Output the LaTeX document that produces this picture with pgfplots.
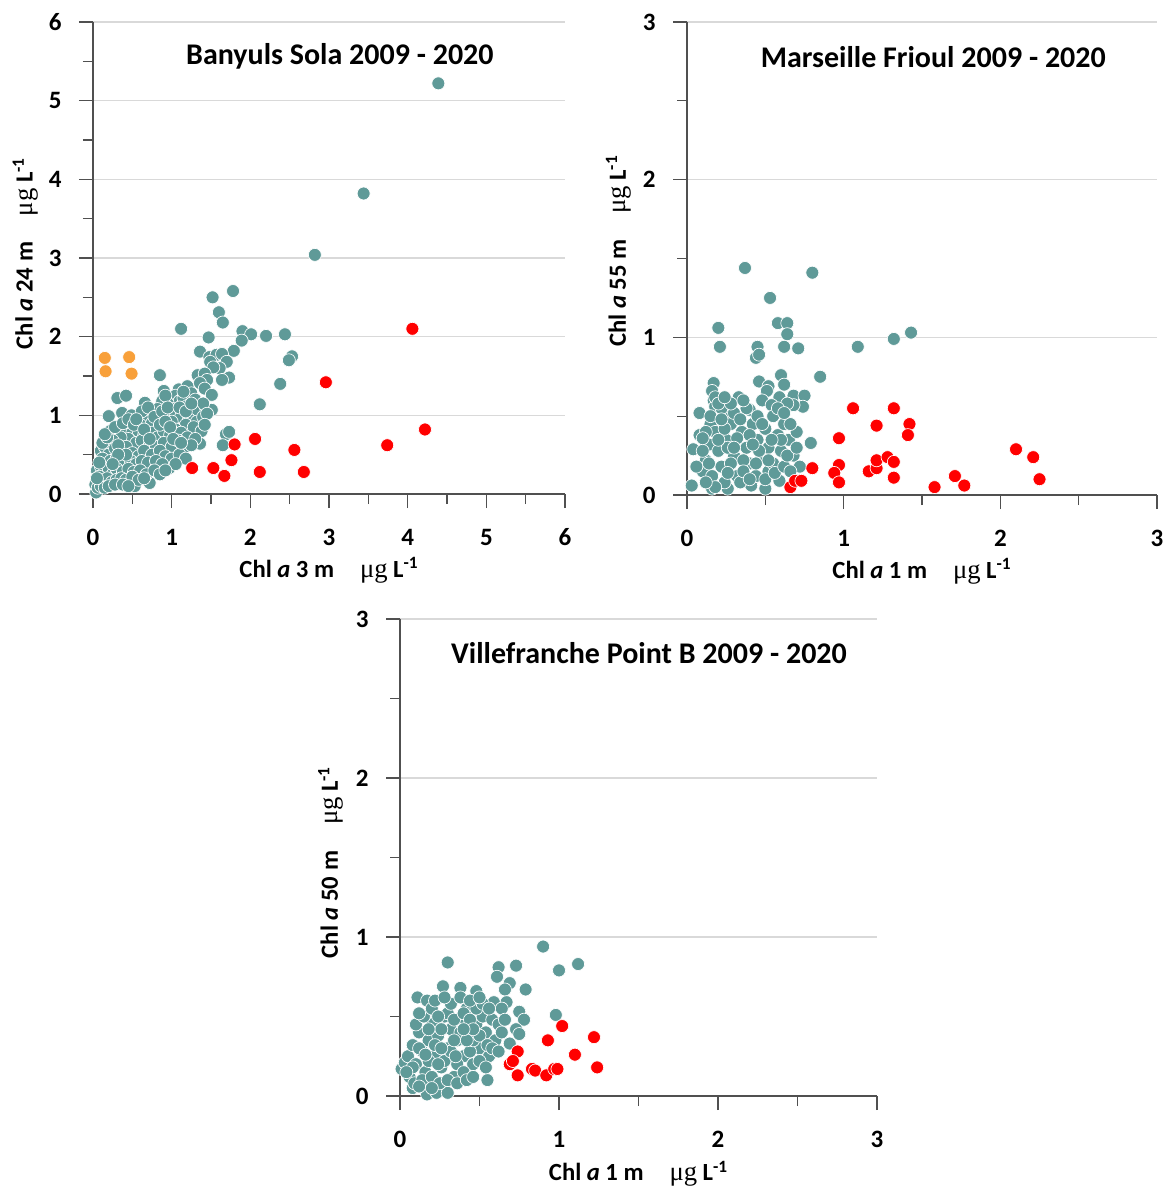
\documentclass[border=0pt]{standalone}
\usepackage{pgfplots}
\pgfplotsset{compat=1.18}
\usepackage{fontspec}
\setmainfont{Carlito}
\newfontfamily\serifmu{Liberation Serif}
\definecolor{tealc}{RGB}{95,154,152}
\definecolor{redc}{RGB}{255,0,0}
\definecolor{orangec}{RGB}{248,160,58}
\definecolor{axgray}{RGB}{80,80,80}
\definecolor{gridgray}{RGB}{217,217,217}
\pgfplotsset{
  chl/.style={
    scale only axis,
    axis x line*=bottom, axis y line*=left,
    axis line style={-, draw=axgray, line width=0.8pt},
    tick align=outside, major tick length=8.4pt, minor tick length=6pt, minor tick num=1,
    every tick/.style={draw=axgray, line width=0.8pt},
    ymajorgrids, major grid style={draw=gridgray, line width=0.8pt},
    xmin=0, ymin=0, clip=false,
    /pgf/number format/assume math mode=true,
    tick label style={font=\fontsize{15}{17}\selectfont\bfseries},
    label style={font=\fontsize{14.8}{17}\selectfont\bfseries},
    xticklabel style={yshift=-9pt},
    yticklabel style={xshift=-7pt},
  },
  tealpts/.style={only marks, mark=*, mark size=3.9pt, mark options={fill=tealc, draw=white, line width=0.4pt}},
  redpts/.style={only marks, mark=*, mark size=3.9pt, mark options={fill=redc, draw=white, line width=0.4pt}},
  orpts/.style={only marks, mark=*, mark size=3.9pt, mark options={fill=orangec, draw=white, line width=0.4pt}},
}
\newcommand{\ugl}{\hspace{1.05em}{\serifmu\mdseries\fontsize{16}{17}\selectfont μg} L\textsuperscript{-1}}
\begin{document}
\begin{tikzpicture}
\path[use as bounding box] (0,0) rectangle (699.6pt,-713.4pt);
% ---------------- Banyuls
\begin{axis}[chl, at={(55.8pt,-296.4pt)}, anchor=south west, width=283.2pt, height=283.2pt,
  xmax=6, ymax=6, xtick={0,...,6}, ytick={0,...,6},
  xlabel={Chl \textit{a} 3 m\ugl}, ylabel={Chl \textit{a} 24 m\ugl},
  xlabel style={at={(axis description cs:0.5,-0.176)}, anchor=base},
  ylabel style={at={(axis description cs:-0.128,0.51)}, anchor=base}]
\addplot[tealpts] coordinates {
(4.39,5.22)(3.44,3.82)(2.82,3.04)(1.78,2.58)(1.52,2.50)(1.60,2.31)(1.65,2.18)(1.12,2.10)
(1.90,2.07)(2.01,2.03)(2.20,2.01)(2.44,2.03)(1.89,1.95)(1.47,1.99)(1.36,1.81)(1.79,1.82)
(1.48,1.74)(1.57,1.77)(1.64,1.78)(1.70,1.68)(1.61,1.60)(1.49,1.68)(1.53,1.61)(1.73,1.48)
(1.64,1.45)(2.53,1.75)(2.49,1.70)(2.38,1.40)(2.12,1.14)(0.85,1.51)(1.33,1.51)(1.42,1.53)
(1.45,1.45)(1.36,1.41)(1.42,1.34)(1.51,1.26)(1.51,1.07)(0.31,1.22)(0.42,1.25)(0.66,1.16)
(0.37,1.03)(0.20,0.99)(0.49,1.00)(0.60,0.98)(0.90,1.31)(1.09,1.33)(1.20,1.37)(1.69,0.76)
(1.73,0.79)(1.65,0.62)(1.36,0.64)(0.53,0.10)(0.04,0.02)(0.15,0.18)(0.72,0.14)(0.97,0.33)
(1.00,1.20)(1.05,1.25)(1.10,1.18)(1.15,1.22)(1.25,1.28)(1.30,1.20)(0.95,1.15)(1.20,1.12)
(1.35,1.10)(1.40,1.15)(1.28,1.05)(1.02,1.08)(0.88,1.18)(0.92,1.25)(1.15,1.30)
(0.70,1.02)(0.78,1.05)(0.85,0.95)(0.95,1.00)(1.05,1.02)(1.12,0.98)(1.22,0.95)(1.32,0.92)
(1.40,0.98)(1.45,1.02)(0.82,1.08)(0.68,0.92)(0.60,0.88)(0.75,0.90)(1.00,0.92)(1.18,0.88)
(1.28,0.85)(1.38,0.80)(1.42,0.88)
(0.30,0.85)(0.22,0.80)(0.40,0.82)(0.50,0.78)(0.58,0.80)(0.65,0.75)(0.75,0.78)(0.82,0.72)
(0.90,0.80)(0.98,0.75)(1.05,0.82)(1.12,0.78)(1.20,0.72)(1.30,0.70)(0.45,0.70)(0.35,0.72)
(0.25,0.68)(0.55,0.65)(0.62,0.68)(0.72,0.62)(0.80,0.60)(0.90,0.65)(1.00,0.60)(1.08,0.68)
(1.15,0.58)(1.25,0.62)
(0.10,0.55)(0.15,0.60)(0.20,0.50)(0.28,0.58)(0.35,0.55)(0.42,0.60)(0.50,0.52)(0.58,0.48)
(0.65,0.55)(0.75,0.50)(0.85,0.55)(0.92,0.48)(1.00,0.45)(1.10,0.50)(1.18,0.45)(0.12,0.45)
(0.22,0.42)(0.30,0.45)(0.38,0.40)(0.48,0.42)(0.55,0.38)(0.62,0.42)(0.70,0.40)(0.80,0.42)
(0.88,0.38)(1.05,0.38)
(0.05,0.30)(0.10,0.35)(0.15,0.28)(0.20,0.32)(0.25,0.25)(0.30,0.32)(0.38,0.28)(0.45,0.32)
(0.52,0.28)(0.60,0.30)(0.68,0.25)(0.78,0.30)(0.85,0.25)(0.92,0.30)(0.08,0.22)(0.12,0.15)
(0.18,0.20)(0.24,0.15)(0.30,0.18)(0.36,0.20)(0.42,0.18)(0.50,0.22)(0.58,0.18)(0.65,0.20)
(0.03,0.12)(0.06,0.08)(0.10,0.10)(0.15,0.08)(0.20,0.10)(0.28,0.12)(0.38,0.12)(0.45,0.10)
(0.12,0.65)(0.18,0.72)(0.15,0.76)(0.28,0.85)(0.32,0.62)(0.08,0.40)(0.05,0.20)
(0.38,0.90)(0.45,0.95)(0.52,0.88)(0.62,1.05)(0.70,1.10)(0.78,0.98)(0.88,1.05)(0.95,1.10)
(0.55,0.95)(0.65,0.82)(0.85,0.88)(0.92,0.92)(1.10,1.10)(1.18,1.05)(1.25,1.15)(0.98,0.85)
(1.02,0.70)(1.12,0.65)(0.72,0.70)(0.42,0.50)(0.32,0.50)(0.25,0.38)
};
\addplot[orpts] coordinates {(0.15,1.73)(0.16,1.56)(0.46,1.74)(0.49,1.53)};
\addplot[redpts] coordinates {
(4.06,2.10)(2.96,1.42)(4.22,0.82)(3.74,0.62)(2.06,0.70)(1.80,0.63)(1.76,0.43)(2.56,0.56)
(1.26,0.33)(1.53,0.33)(1.67,0.23)(2.12,0.28)(2.68,0.28)};
\node[font=\fontsize{18}{20}\selectfont\bfseries] at (rel axis cs:0.523,0.928) {Banyuls Sola 2009 - 2020};
\end{axis}
% ---------------- Marseille
\begin{axis}[chl, at={(412.2pt,-297pt)}, anchor=south west, width=282pt, height=283.8pt,
  xmax=3, ymax=3, xtick={0,...,3}, ytick={0,...,3},
  xlabel={Chl \textit{a} 1 m\ugl}, ylabel={Chl \textit{a} 55 m\ugl},
  xlabel style={at={(axis description cs:0.5,-0.176)}, anchor=base},
  ylabel style={at={(axis description cs:-0.130,0.516)}, anchor=base}]
\addplot[tealpts] coordinates {
(0.37,1.44)(0.80,1.41)(0.53,1.25)(0.58,1.09)(0.64,1.09)(0.64,1.02)(0.20,1.06)(0.21,0.94)
(0.45,0.94)(0.44,0.87)(0.46,0.89)(0.62,0.94)(0.71,0.93)(1.09,0.94)(1.32,0.99)(1.43,1.03)
(0.85,0.75)(0.60,0.76)(0.62,0.70)(0.46,0.72)(0.17,0.71)(0.52,0.69)(0.51,0.66)(0.59,0.62)
(0.68,0.63)(0.75,0.63)(0.74,0.56)(0.68,0.57)(0.64,0.58)(0.33,0.62)(0.48,0.60)(0.54,0.57)
(0.08,0.52)(0.26,0.52)(0.40,0.54)(0.79,0.33)(0.04,0.29)(0.03,0.06)(0.16,0.04)(0.26,0.04)
(0.41,0.06)(0.50,0.04)(0.59,0.09)(0.52,0.15)(0.16,0.66)(0.17,0.60)(0.18,0.56)(0.15,0.45)
(0.08,0.38)(0.12,0.22)(0.10,0.15)(0.14,0.32)(0.18,0.40)(0.20,0.28)(0.22,0.18)(0.25,0.35)
(0.28,0.45)(0.30,0.25)(0.32,0.12)(0.35,0.40)(0.38,0.30)(0.40,0.20)(0.42,0.45)(0.45,0.35)
(0.48,0.25)(0.50,0.42)(0.52,0.30)(0.55,0.20)(0.58,0.38)(0.60,0.28)(0.62,0.45)(0.65,0.35)
(0.68,0.25)(0.70,0.40)(0.72,0.18)(0.15,0.50)(0.22,0.55)(0.30,0.52)(0.38,0.55)(0.45,0.50)
(0.55,0.50)(0.18,0.62)(0.20,0.58)(0.06,0.18)(0.10,0.28)(0.16,0.12)(0.24,0.08)(0.28,0.20)
(0.34,0.08)(0.36,0.22)(0.44,0.12)(0.46,0.28)(0.50,0.10)(0.56,0.14)(0.62,0.18)(0.66,0.15)
(0.26,0.30)(0.32,0.36)(0.40,0.38)(0.48,0.45)(0.12,0.40)(0.34,0.48)(0.42,0.32)(0.36,0.15)
(0.24,0.42)(0.20,0.35)(0.44,0.20)(0.52,0.22)(0.60,0.35)(0.64,0.25)(0.70,0.30)(0.14,0.20)
(0.30,0.30)(0.40,0.10)(0.26,0.14)(0.18,0.05)(0.22,0.48)(0.58,0.55)(0.66,0.45)(0.62,0.52)
(0.54,0.35)(0.10,0.36)(0.12,0.08)(0.28,0.58)(0.36,0.60)(0.24,0.62)
};
\addplot[redpts] coordinates {
(1.06,0.55)(1.32,0.55)(1.21,0.44)(1.42,0.45)(1.41,0.38)(0.97,0.36)(0.97,0.19)(0.94,0.14)
(0.97,0.08)(0.80,0.17)(0.66,0.05)(0.69,0.09)(0.73,0.09)(1.16,0.15)(1.21,0.17)(1.21,0.22)
(1.28,0.24)(1.32,0.21)(1.32,0.11)(1.58,0.05)(1.71,0.12)(1.77,0.06)(2.10,0.29)(2.21,0.24)
(2.25,0.10)};
\node[font=\fontsize{18}{20}\selectfont\bfseries] at (rel axis cs:0.524,0.926) {Marseille Frioul 2009 - 2020};
\end{axis}
% ---------------- Villefranche
\begin{axis}[chl, at={(240pt,-657.6pt)}, anchor=south west, width=286.2pt, height=286.2pt,
  xmax=3, ymax=3, xtick={0,...,3}, ytick={0,...,3},
  xlabel={Chl \textit{a} 1 m\ugl}, ylabel={Chl \textit{a} 50 m\ugl},
  xlabel style={at={(axis description cs:0.5,-0.178)}, anchor=base},
  ylabel style={at={(axis description cs:-0.130,0.49)}, anchor=base}]
\addplot[tealpts] coordinates {
(0.90,0.94)(1.12,0.83)(1.00,0.79)(0.30,0.84)(0.62,0.81)(0.73,0.82)(0.61,0.75)(0.69,0.71)
(0.66,0.67)(0.79,0.67)(0.27,0.69)(0.38,0.68)(0.48,0.66)(0.11,0.62)(0.17,0.60)(0.67,0.59)
(0.59,0.59)(0.64,0.55)(0.75,0.53)(0.78,0.48)(0.73,0.42)(0.75,0.39)(0.98,0.51)(0.69,0.33)
(0.55,0.10)(0.17,0.01)(0.23,0.02)(0.30,0.02)(0.08,0.05)(0.01,0.17)(0.03,0.21)
(0.05,0.25)(0.08,0.32)(0.10,0.20)(0.12,0.40)(0.14,0.28)(0.16,0.15)(0.18,0.35)(0.20,0.45)
(0.22,0.25)(0.24,0.38)(0.26,0.18)(0.28,0.50)(0.30,0.30)(0.32,0.42)(0.34,0.12)(0.36,0.35)
(0.38,0.48)(0.40,0.25)(0.42,0.55)(0.44,0.38)(0.46,0.20)(0.48,0.45)(0.50,0.30)(0.52,0.50)
(0.54,0.40)(0.56,0.25)(0.58,0.48)(0.60,0.35)(0.62,0.45)(0.10,0.45)(0.15,0.50)(0.06,0.12)
(0.09,0.08)(0.14,0.10)(0.20,0.12)(0.25,0.08)(0.30,0.10)(0.12,0.30)(0.18,0.22)(0.22,0.32)
(0.28,0.22)(0.32,0.28)(0.36,0.20)(0.40,0.15)(0.44,0.28)(0.46,0.35)(0.50,0.38)(0.55,0.32)
(0.26,0.42)(0.30,0.52)(0.34,0.48)(0.38,0.40)(0.40,0.52)(0.44,0.48)(0.48,0.55)(0.52,0.58)
(0.56,0.55)(0.18,0.42)(0.20,0.55)(0.24,0.50)(0.08,0.18)(0.04,0.15)(0.16,0.26)(0.26,0.30)
(0.34,0.35)(0.42,0.35)(0.46,0.42)(0.50,0.22)(0.54,0.18)(0.58,0.30)(0.62,0.28)(0.64,0.40)
(0.66,0.48)(0.12,0.52)(0.22,0.60)(0.32,0.58)(0.38,0.62)(0.28,0.62)(0.44,0.60)(0.50,0.62)
(0.36,0.08)(0.42,0.10)(0.46,0.12)(0.20,0.05)(0.12,0.06)(0.40,0.42)(0.35,0.25)(0.24,0.20)
};
\addplot[redpts] coordinates {
(1.02,0.44)(1.22,0.37)(0.93,0.35)(0.74,0.28)(1.10,0.26)(0.69,0.20)(0.71,0.22)(0.74,0.13)
(0.83,0.17)(0.85,0.16)(0.92,0.13)(0.97,0.17)(0.99,0.17)(1.24,0.18)};
\node[font=\fontsize{18}{20}\selectfont\bfseries] at (rel axis cs:0.522,0.929) {Villefranche Point B 2009 - 2020};
\end{axis}
\end{tikzpicture}
\end{document}
